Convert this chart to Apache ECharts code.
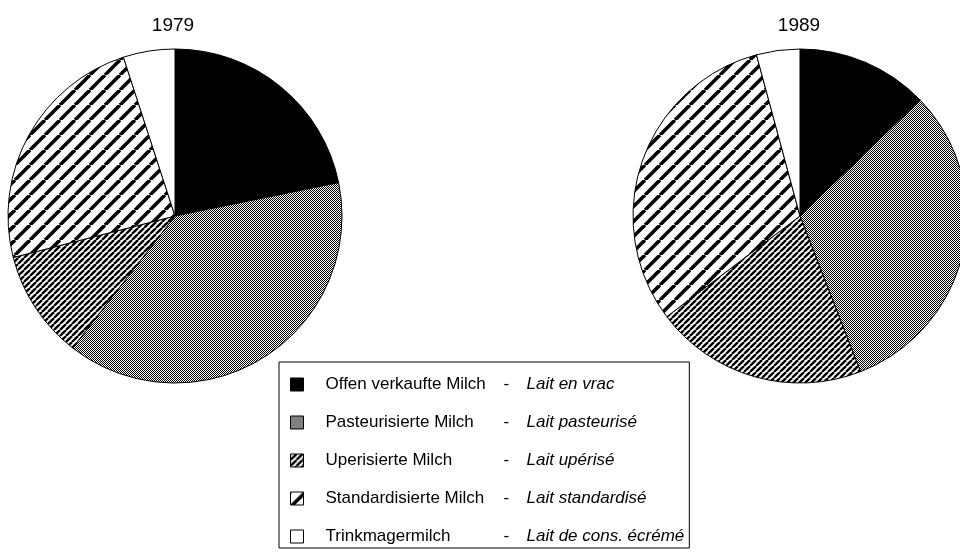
<!DOCTYPE html>
<html>
<head>
<meta charset="utf-8">
<script src="https://cdn.jsdelivr.net/npm/echarts@6/dist/echarts.min.js"></script>
<style>
  html, body { margin: 0; padding: 0; background: #fff; }
  #chart { width: 960px; height: 556px; }
</style>
</head>
<body>
<div id="chart"></div>
<script>
// ---- data ----
const categories = ['Offen verkaufte Milch', 'Pasteurisierte Milch', 'Uperisierte Milch', 'Standardisierte Milch', 'Trinkmagermilch'];
const categoriesFr = ['Lait en vrac', 'Lait pasteurisé', 'Lait upérisé', 'Lait standardisé', 'Lait de cons. écrémé'];
const years = ['1979', '1989'];
const values1979 = [21.8, 38.7, 10.5, 24.0, 5.0];
const values1989 = [12.8, 31.3, 20.6, 31.1, 4.2];

// ---- patterns ----
function checker() {
  const c = document.createElement('canvas');
  c.width = 2; c.height = 2;
  const g = c.getContext('2d');
  g.fillStyle = '#fff'; g.fillRect(0, 0, 2, 2);
  g.fillStyle = '#000'; g.fillRect(0, 0, 1, 1); g.fillRect(1, 1, 1, 1);
  return { image: c, repeat: 'repeat' };
}
function stripes(s, w) {
  const c = document.createElement('canvas');
  c.width = s; c.height = s;
  const g = c.getContext('2d');
  g.fillStyle = '#fff'; g.fillRect(0, 0, s, s);
  g.strokeStyle = '#000'; g.lineWidth = w;
  for (let k = -1; k <= 1; k++) {
    g.beginPath();
    g.moveTo(k * s, s);
    g.lineTo(k * s + s, 0);
    g.stroke();
  }
  return { image: c, repeat: 'repeat' };
}
const fills = ['#000', checker(), stripes(6, 2.4), stripes(15, 3.6), '#fff'];

function pieData(vals) {
  return categories.map((n, i) => ({ name: n, value: vals[i], itemStyle: { color: fills[i] } }));
}

const FONT = '"Liberation Sans", Arial, Helvetica, sans-serif';
const chart = echarts.init(document.getElementById('chart'), null, { renderer: 'canvas' });

const commonPie = {
  type: 'pie',
  radius: 167,
  startAngle: 90,
  clockwise: true,
  silent: true,
  animation: false,
  label: { show: false },
  labelLine: { show: false },
  itemStyle: { borderColor: '#000', borderWidth: 1 },
  emphasis: { disabled: true }
};

chart.setOption({
  backgroundColor: '#fff',
  animation: false,
  title: [
    { text: years[0], left: 168, top: 11, textAlign: 'center',
      textStyle: { fontFamily: FONT, fontSize: 19, fontWeight: 'normal', color: '#000' } },
    { text: years[1], left: 794, top: 11, textAlign: 'center',
      textStyle: { fontFamily: FONT, fontSize: 19, fontWeight: 'normal', color: '#000' } }
  ],
  legend: {
    orient: 'vertical',
    left: 279,
    top: 362,
    padding: [14, 5, 3, 11],
    borderColor: '#000',
    borderWidth: 1,
    itemWidth: 13,
    itemHeight: 13,
    itemGap: 21,
    icon: 'rect',
    selectedMode: false,
    itemStyle: { borderColor: '#000', borderWidth: 1 },
    data: categories,
    formatter: function (name) {
      const i = categories.indexOf(name);
      return '{g| }{de|' + name + '}{d|-}{fr|' + categoriesFr[i] + '}';
    },
    textStyle: {
      fontFamily: FONT,
      fontSize: 17,
      color: '#000',
      rich: {
        g: { width: 17, fontSize: 17 },
        de: { width: 178, fontSize: 17, fontFamily: FONT, color: '#000' },
        d: { width: 23, fontSize: 17, fontFamily: FONT, color: '#000' },
        fr: { width: 160, fontSize: 17, fontFamily: FONT, fontStyle: 'italic', color: '#000' }
      }
    }
  },
  series: [
    Object.assign({}, commonPie, { name: years[0], center: [175, 216], data: pieData(values1979) }),
    Object.assign({}, commonPie, { name: years[1], center: [800, 216], data: pieData(values1989) })
  ]
});
</script>
</body>
</html>
